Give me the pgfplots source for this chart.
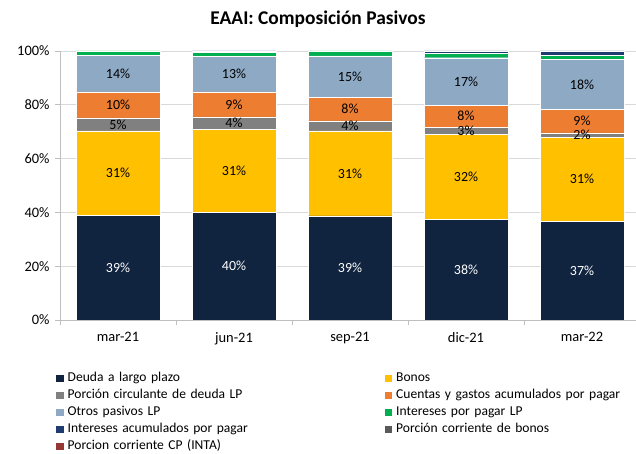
\documentclass[border=0pt]{standalone}
\usepackage{pgfplots}
\usepackage{pgfplotstable}
\pgfplotsset{compat=1.18}
\usepackage{fontspec}
\setmainfont{Carlito}
\definecolor{cdeuda}{HTML}{10233F}
\definecolor{cbonos}{HTML}{FFC000}
\definecolor{cpcirc}{HTML}{808080}
\definecolor{ccuentas}{HTML}{ED7D31}
\definecolor{cotros}{HTML}{8EA9C4}
\definecolor{cintlp}{HTML}{00B050}
\definecolor{cintacum}{HTML}{1F3C70}
\definecolor{cpcbonos}{HTML}{595959}
\definecolor{cpcinta}{HTML}{953735}
\definecolor{gridc}{HTML}{D9D9D9}
\definecolor{axisc}{HTML}{BFBFBF}

\pgfplotstableread{
x deuda bonos pcirc cuentas otros intlp intacum pcbonos pcinta ldeuda lbonos lpcirc lcuentas lotros
0 39.0 31.3 4.8 9.7 13.7 1.5 0.0 0 0 39 31 5 10 14
1 40.1 30.9 4.5 9.3 13.1 1.5 0.6 0 0 40 31 4 9 13
2 38.7 31.6 3.7 8.7 15.5 1.8 0.0 0 0 39 31 4 8 15
3 37.5 31.6 2.6 8.2 17.6 1.6 0.9 0 0 38 32 3 8 17
4 36.8 31.2 1.6 8.8 18.4 1.7 1.5 0 0 37 31 2 9 18
}\datatable

\begin{document}
\begin{tikzpicture}
\path[use as bounding box] (0,0) rectangle (636bp,454bp);
\node[font=\bfseries\fontsize{19.5}{23}\selectfont] at (318bp,435bp) {EAAI: Composición Pasivos};
\begin{axis}[
  at={(60bp,134bp)}, anchor=south west,
  scale only axis, width=580bp, height=269bp,
  ybar stacked, bar width=84bp,
  xmin=-0.5, xmax=4.5, ymin=0, ymax=100,
  axis x line*=bottom, axis y line*=left,
  axis line style={axisc, line width=0.8bp},
  xtick={0,1,2,3,4},
  xticklabels={mar-21,jun-21,sep-21,dic-21,mar-22},
  minor xtick={-0.5,0.5,1.5,2.5,3.5,4.5},
  major x tick style={draw=none},
  minor x tick style={axisc, line width=0.8bp},
  minor tick length=5bp,
  ytick={0,20,40,60,80,100},
  yticklabels={0\%,20\%,40\%,60\%,80\%,100\%},
  y tick style={axisc, line width=0.8bp},
  major tick length=5bp,
  tick align=outside,
  ymajorgrids, grid style={gridc, line width=0.8bp},
  tick label style={font=\fontsize{14.5}{17}\selectfont, text=black},
  xticklabel style={yshift=-4bp},
  yticklabel style={xshift=-2bp},
  legend columns=2,
  legend cell align=left,
  legend style={at={(-0.012,-0.188)}, anchor=north west, draw=none, fill=none,
    font=\fontsize{13.6}{15}\selectfont, row sep=5bp,
    nodes={text height=9bp, text depth=3bp, inner sep=0pt, text width=317bp, align=left},
    /tikz/every odd column/.append style={column sep=4bp}},
  legend image code/.code={\path[#1, draw=none] (0bp,-3.5bp) rectangle (7.5bp,4bp);},
  every axis plot/.append style={draw=white, line width=0.4bp},
]
\addplot[fill=cdeuda] table[x=x,y=deuda] {\datatable};
\addlegendentry{Deuda a largo plazo}
\addplot[fill=cbonos] table[x=x,y=bonos] {\datatable};
\addlegendentry{Bonos}
\addplot[fill=cpcirc] table[x=x,y=pcirc] {\datatable};
\addlegendentry{Porción circulante de deuda LP}
\addplot[fill=ccuentas] table[x=x,y=cuentas] {\datatable};
\addlegendentry{Cuentas y gastos acumulados por pagar}
\addplot[fill=cotros] table[x=x,y=otros] {\datatable};
\addlegendentry{Otros pasivos LP}
\addplot[fill=cintlp] table[x=x,y=intlp] {\datatable};
\addlegendentry{Intereses por pagar LP}
\addplot[fill=cintacum] table[x=x,y=intacum] {\datatable};
\addlegendentry{Intereses acumulados por pagar}
\addplot[fill=cpcbonos, draw=none] table[x=x,y=pcbonos] {\datatable};
\addlegendentry{Porción corriente de bonos}
\addplot[fill=cpcinta, draw=none] table[x=x,y=pcinta] {\datatable};
\addlegendentry{Porcion corriente CP (INTA)}
\end{axis}
\begin{axis}[
  at={(60bp,134bp)}, anchor=south west,
  scale only axis, width=580bp, height=269bp,
  xmin=-0.5, xmax=4.5, ymin=0, ymax=100,
  hide axis, clip=false,
  point meta=explicit symbolic,
  nodes near coords={\pgfplotspointmeta\%},
  every node near coord/.append style={anchor=center, font=\fontsize{14}{16}\selectfont, text=black},
]
\addplot[draw=none, mark=none, nodes near coords style={text=white}] table[x=x, y expr=\thisrow{deuda}/2, meta=ldeuda] {\datatable};
\addplot[draw=none, mark=none] table[x=x, y expr=\thisrow{deuda}+\thisrow{bonos}/2, meta=lbonos] {\datatable};
\addplot[draw=none, mark=none] table[x=x, y expr=\thisrow{deuda}+\thisrow{bonos}+\thisrow{pcirc}/2, meta=lpcirc] {\datatable};
\addplot[draw=none, mark=none] table[x=x, y expr=\thisrow{deuda}+\thisrow{bonos}+\thisrow{pcirc}+\thisrow{cuentas}/2, meta=lcuentas] {\datatable};
\addplot[draw=none, mark=none] table[x=x, y expr=\thisrow{deuda}+\thisrow{bonos}+\thisrow{pcirc}+\thisrow{cuentas}+\thisrow{otros}/2, meta=lotros] {\datatable};
\end{axis}
\end{tikzpicture}
\end{document}
